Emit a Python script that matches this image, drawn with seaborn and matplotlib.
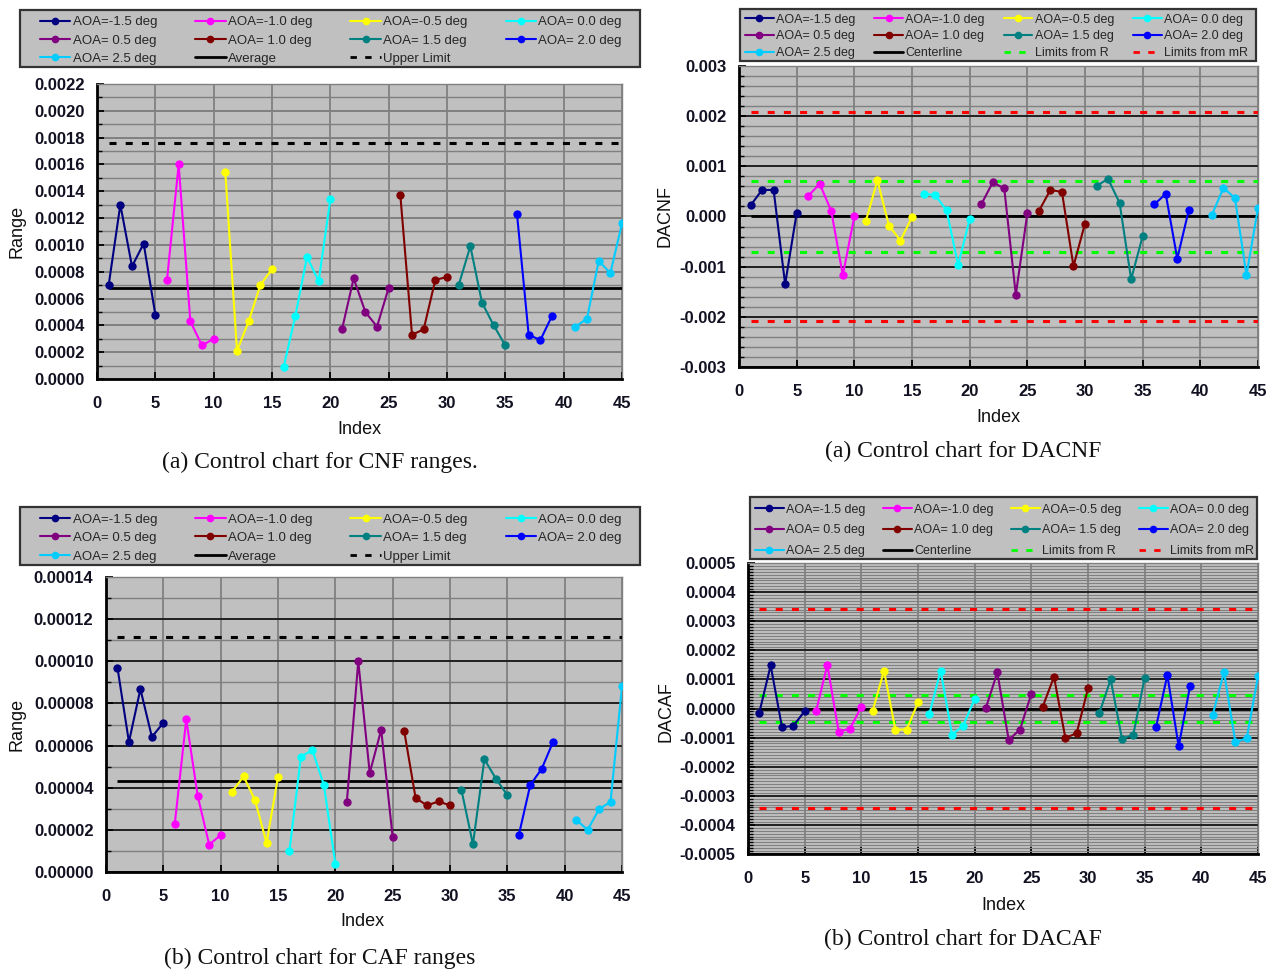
import matplotlib
matplotlib.use("Agg")
import matplotlib.pyplot as plt
from matplotlib.lines import Line2D
from matplotlib.patches import Rectangle
from matplotlib.ticker import MultipleLocator, FuncFormatter, NullLocator
import pandas as pd
import seaborn as sns

sns.set_theme(style="white")
plt.rcParams["font.family"] = ["Liberation Sans", "DejaVu Sans"]

W, H = 1276, 971

AOA_LABELS = ["AOA=-1.5 deg", "AOA=-1.0 deg", "AOA=-0.5 deg", "AOA= 0.0 deg",
              "AOA= 0.5 deg", "AOA= 1.0 deg", "AOA= 1.5 deg", "AOA= 2.0 deg",
              "AOA= 2.5 deg"]
AOA_COLORS = ["#000080", "#FF00FF", "#FFFF00", "#00FFFF", "#800080",
              "#800000", "#008080", "#0000FF", "#00CCFF"]
GROUP_SIZES = [5, 5, 5, 5, 5, 5, 5, 4, 5]

# sample index (no point at 40)
INDEX = list(range(1, 40)) + list(range(41, 46))

CNF_RANGE = [0.00070, 0.00130, 0.00084, 0.00101, 0.00048,
             0.00074, 0.00160, 0.00043, 0.00025, 0.00030,
             0.00154, 0.00021, 0.00043, 0.00070, 0.00082,
             0.00009, 0.00047, 0.00091, 0.00073, 0.00134,
             0.00037, 0.00075, 0.00050, 0.00039, 0.00068,
             0.00137, 0.00033, 0.00037, 0.00074, 0.00076,
             0.00070, 0.00099, 0.00057, 0.00040, 0.00025,
             0.00123, 0.00033, 0.00029, 0.00047,
             0.00039, 0.00045, 0.00088, 0.00079, 0.00116]
CNF_AVERAGE = 0.00068
CNF_UPPER = 0.00176

DACNF = [0.00022, 0.00053, 0.00053, -0.00135, 0.00007,
         0.00041, 0.00065, 0.00011, -0.00117, 0.00000,
         -0.00009, 0.00072, -0.00018, -0.00048, -0.00001,
         0.00045, 0.00043, 0.00012, -0.00097, -0.00005,
         0.00024, 0.00068, 0.00056, -0.00156, 0.00006,
         0.00011, 0.00053, 0.00049, -0.00099, -0.00014,
         0.00061, 0.00075, 0.00027, -0.00125, -0.00039,
         0.00024, 0.00045, -0.00084, 0.00013,
         0.00003, 0.00057, 0.00037, -0.00117, 0.00017]
DACNF_CENTER = 0.0
DACNF_LIM_R = 0.00070
DACNF_LIM_MR = 0.00208

CAF_RANGE = [0.0000970, 0.0000617, 0.0000868, 0.0000641, 0.0000708,
             0.0000230, 0.0000724, 0.0000360, 0.0000130, 0.0000175,
             0.0000381, 0.0000454, 0.0000340, 0.0000138, 0.0000451,
             0.0000102, 0.0000548, 0.0000578, 0.0000413, 0.0000040,
             0.0000330, 0.0001000, 0.0000470, 0.0000675, 0.0000165,
             0.0000671, 0.0000351, 0.0000316, 0.0000335, 0.0000316,
             0.0000389, 0.0000132, 0.0000535, 0.0000443, 0.0000365,
             0.0000175, 0.0000413, 0.0000490, 0.0000619,
             0.0000248, 0.0000200, 0.0000298, 0.0000333, 0.0000881]
CAF_AVERAGE = 0.0000432
CAF_UPPER = 0.0001116

DACAF = [-0.0000138, 0.0001480, -0.0000643, -0.0000597, -0.0000092,
         -0.0000103, 0.0001500, -0.0000804, -0.0000689, 0.0000057,
         -0.0000080, 0.0001300, -0.0000723, -0.0000723, 0.0000207,
         -0.0000195, 0.0001300, -0.0000896, -0.0000586, 0.0000333,
         0.0000034, 0.0001240, -0.0001080, -0.0000723, 0.0000505,
         0.0000057, 0.0001090, -0.0001010, -0.0000850, 0.0000689,
         -0.0000161, 0.0001000, -0.0001045, -0.0000896, 0.0001056,
         -0.0000643, 0.0001150, -0.0001300, 0.0000758,
         -0.0000230, 0.0001260, -0.0001150, -0.0001030, 0.0001110]
DACAF_CENTER = 0.0
DACAF_LIM_R = 0.000046
DACAF_LIM_MR = 0.000343

GRAY = "#808080"
PLOT_BG = "#C0C0C0"
DASH = (0, (2.3, 3.0))


def long_frame(values):
    groups = [lab for lab, n in zip(AOA_LABELS, GROUP_SIZES) for _ in range(n)]
    return pd.DataFrame({"Index": INDEX, "Value": values, "AOA": groups})


def fig_box(left, top, right, bottom):
    return (left / W, 1 - bottom / H, (right - left) / W, (bottom - top) / H)


def make_axes(fig, left, top, right, bottom):
    return fig.add_axes(fig_box(left, top, right, bottom))


def style_axes(ax, ylim, major, minor, decimals, major_color):
    ax.set_facecolor(PLOT_BG)
    ax.set_xlim(0, 45)
    ax.set_ylim(*ylim)
    ax.xaxis.set_major_locator(MultipleLocator(5))
    ax.xaxis.set_minor_locator(NullLocator())
    ax.yaxis.set_major_locator(MultipleLocator(major))
    ax.yaxis.set_minor_locator(MultipleLocator(minor))
    ax.yaxis.set_major_formatter(FuncFormatter(
        lambda v, p: f"{0.0 if abs(v) < 1e-12 else v:.{decimals}f}"))
    ax.set_axisbelow(True)
    ax.grid(True, which="minor", axis="y", color=GRAY, lw=1.0)
    ax.grid(True, which="major", axis="y", color=major_color, lw=1.4)
    ax.grid(True, which="major", axis="x", color=GRAY, lw=1.3)
    ax.tick_params(axis="both", which="both", direction="in", left=True, bottom=True,
                   top=False, right=False, color="black")
    ax.tick_params(axis="both", which="major", length=5, width=1.3, labelsize=12,
                   labelcolor="#111122")
    ax.tick_params(axis="y", which="major", pad=9)
    ax.tick_params(axis="x", which="major", pad=12)
    ax.tick_params(axis="y", which="minor", length=3.5, width=1.0)
    for lab in ax.get_xticklabels() + ax.get_yticklabels():
        lab.set_fontweight("bold")
    for side in ("left", "bottom"):
        ax.spines[side].set_color("black")
        ax.spines[side].set_linewidth(2)
    for side in ("top", "right"):
        ax.spines[side].set_color(GRAY)
        ax.spines[side].set_linewidth(1)
    ax.set_xlabel("")
    ax.set_ylabel("")


def draw_series(ax, values):
    sns.lineplot(data=long_frame(values), x="Index", y="Value", hue="AOA",
                 hue_order=AOA_LABELS, palette=AOA_COLORS, marker="o",
                 markersize=6, markeredgewidth=0, linewidth=1.5,
                 estimator=None, legend=False, ax=ax, zorder=4)


def add_legend(fig, extra, frame_px, content_px, fontsize, spacing):
    handles = [Line2D([], [], color=c, marker="o", markersize=5.5, lw=1.5,
                      markeredgewidth=0) for c in AOA_COLORS]
    labels = list(AOA_LABELS)
    for lab, color, style in extra:
        handles.append(Line2D([], [], color=color, lw=2, linestyle=style))
        labels.append(lab)
    n = len(handles)
    order = [i for c in range(4) for i in (c, c + 4, c + 8) if i < n]
    fig.add_artist(Rectangle(fig_box(*frame_px)[:2], *fig_box(*frame_px)[2:],
                             transform=fig.transFigure, facecolor=PLOT_BG,
                             edgecolor="#333333", lw=1.6, zorder=1))
    fig.legend([handles[i] for i in order], [labels[i] for i in order],
               loc="center", bbox_to_anchor=fig_box(*content_px),
               mode="expand", ncol=4, fontsize=fontsize, handlelength=2.3,
               handletextpad=0.2, labelspacing=spacing, borderpad=0,
               borderaxespad=0, columnspacing=0.5, frameon=False)


def text_px(fig, x, y, s, **kw):
    fig.text(x / W, 1 - y / H, s, ha="center", va="center", **kw)


fig = plt.figure(figsize=(W / 100, H / 100), dpi=100)
fig.patch.set_facecolor("white")

# (a) CNF ranges
ax1 = make_axes(fig, 97, 84, 622, 379)
draw_series(ax1, CNF_RANGE)
ax1.hlines(CNF_AVERAGE, INDEX[0], INDEX[-1], color="black", lw=2, zorder=3)
ax1.hlines(CNF_UPPER, INDEX[0], INDEX[-1], color="black", lw=2.2, linestyles=DASH, zorder=3)
style_axes(ax1, (0, 0.0022), 0.0002, 0.0001, 4, GRAY)
add_legend(fig, [("Average", "black", "-"), ("Upper Limit", "black", DASH)],
           (20, 10, 640, 67), (40, 12, 622, 69), 9.5, 0.47)

# (a) DACNF
ax2 = make_axes(fig, 739, 66, 1258, 367)
draw_series(ax2, DACNF)
ax2.hlines(DACNF_CENTER, INDEX[0], INDEX[-1], color="black", lw=2, zorder=3)
for lim, col in ((DACNF_LIM_R, "#00FF00"), (DACNF_LIM_MR, "#FF0000")):
    ax2.hlines([lim, -lim], INDEX[0], INDEX[-1], color=col, lw=2.2, linestyles=DASH, zorder=3)
style_axes(ax2, (-0.003, 0.003), 0.001, 0.0002, 3, "#202020")
add_legend(fig, [("Centerline", "black", "-"), ("Limits from R", "#00FF00", DASH),
                 ("Limits from mR", "#FF0000", DASH)],
           (740, 9, 1256, 61), (745, 10.5, 1248, 62.5), 9, 0.38)

# (b) CAF ranges
ax3 = make_axes(fig, 106, 577, 622, 872)
draw_series(ax3, CAF_RANGE)
ax3.hlines(CAF_AVERAGE, INDEX[0], INDEX[-1], color="black", lw=2, zorder=3)
ax3.hlines(CAF_UPPER, INDEX[0], INDEX[-1], color="black", lw=2.2, linestyles=DASH, zorder=3)
style_axes(ax3, (0, 0.00014), 0.00002, 0.00001, 5, "#202020")
add_legend(fig, [("Average", "black", "-"), ("Upper Limit", "black", DASH)],
           (20, 507, 640, 565), (40, 509, 622, 567), 9.5, 0.47)

# (b) DACAF
ax4 = make_axes(fig, 748, 563, 1258, 854)
draw_series(ax4, DACAF)
ax4.hlines(DACAF_CENTER, INDEX[0], INDEX[-1], color="black", lw=2, zorder=3)
for lim, col in ((DACAF_LIM_R, "#00FF00"), (DACAF_LIM_MR, "#FF0000")):
    ax4.hlines([lim, -lim], INDEX[0], INDEX[-1], color=col, lw=2.2, linestyles=DASH, zorder=3)
style_axes(ax4, (-0.0005, 0.0005), 0.0001, 0.00001, 4, "#202020")
ax4.grid(True, which="minor", axis="y", color=GRAY, lw=0.8)
add_legend(fig, [("Centerline", "black", "-"), ("Limits from R", "#00FF00", DASH),
                 ("Limits from mR", "#FF0000", DASH)],
           (750, 497, 1257, 559), (755, 499.5, 1254, 561.5), 9, 0.7)

# axis titles
label_kw = dict(fontsize=13, color="#111111")
text_px(fig, 17, 231, "Range", rotation=90, **label_kw)
text_px(fig, 665, 216, "DACNF", rotation=90, **label_kw)
text_px(fig, 17, 724, "Range", rotation=90, **label_kw)
text_px(fig, 666, 712, "DACAF", rotation=90, **label_kw)
text_px(fig, 359, 429, "Index", **label_kw)
text_px(fig, 998, 417, "Index", **label_kw)
text_px(fig, 362, 922, "Index", **label_kw)
text_px(fig, 1003, 905, "Index", **label_kw)

cap_kw = dict(fontsize=17, family="Liberation Serif", color="#111111")
text_px(fig, 320, 462, "(a) Control chart for CNF ranges.", **cap_kw)
text_px(fig, 963, 451, "(a) Control chart for DACNF", **cap_kw)
text_px(fig, 320, 958, "(b) Control chart for CAF ranges", **cap_kw)
text_px(fig, 963, 939, "(b) Control chart for DACAF", **cap_kw)

fig.savefig("out.png", dpi=100)
